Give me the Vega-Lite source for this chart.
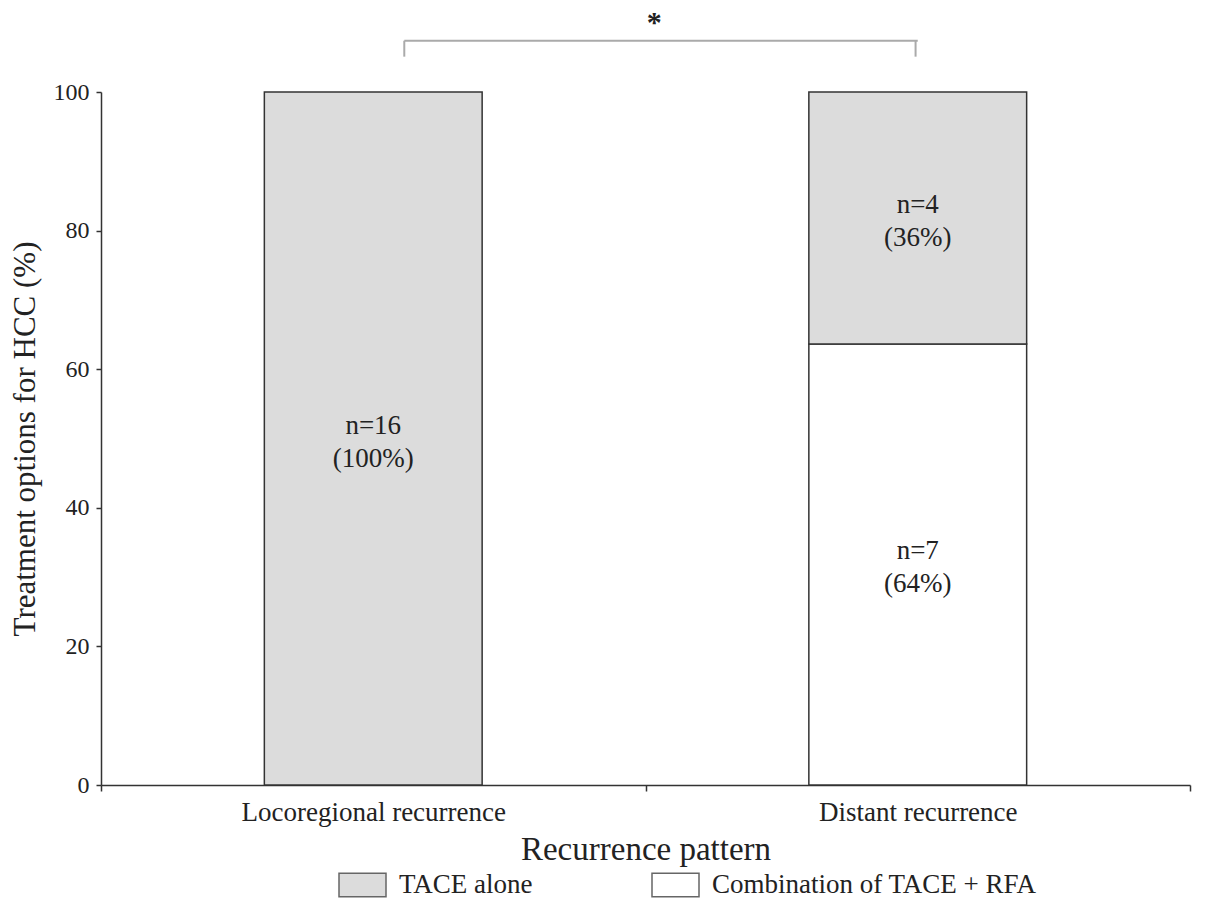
{
  "$schema": "https://vega.github.io/schema/vega-lite/v6.json",
  "autosize": {"type": "none"},
  "width": 1089,
  "height": 693,
  "padding": {"left": 101, "top": 92, "right": 15, "bottom": 122},
  "background": "white",
  "config": {
    "view": {"stroke": null},
    "font": "Liberation Serif",
    "axis": {"grid": false}
  },
  "datasets": {
    "bars": [
      {"pattern": "Locoregional recurrence", "treatment": "TACE alone", "pct": 100, "label": "n=16\n(100%)"},
      {"pattern": "Distant recurrence", "treatment": "Combination of TACE + RFA", "pct": 63.64, "label": "n=7\n(64%)"},
      {"pattern": "Distant recurrence", "treatment": "TACE alone", "pct": 36.36, "label": "n=4\n(36%)"}
    ],
    "sig": [
      {"from": "Locoregional recurrence", "to": "Distant recurrence", "mark": "*"}
    ]
  },
  "layer": [
    {
      "data": {"name": "bars"},
      "mark": {"type": "bar", "width": {"band": 0.4}, "stroke": "#333333", "strokeWidth": 1.5},
      "encoding": {
        "x": {
          "field": "pattern", "type": "nominal",
          "scale": {"domain": ["Locoregional recurrence", "Distant recurrence"], "paddingInner": 0, "paddingOuter": 0},
          "axis": {
            "title": "Recurrence pattern", "titleFontSize": 33, "titleFontWeight": "normal", "titleColor": "#222222", "titlePadding": 8,
            "labelFontSize": 27, "labelColor": "#222222", "labelAngle": 0, "labelPadding": 8, "labelLimit": 600,
            "tickBand": "extent", "tickSize": 6, "tickColor": "#333333", "tickWidth": 1.5,
            "domainColor": "#333333", "domainWidth": 1.5
          }
        },
        "y": {
          "field": "pct", "type": "quantitative", "stack": "zero",
          "scale": {"domain": [0, 100], "nice": false},
          "axis": {
            "title": "Treatment options for HCC (%)", "titleFontSize": 31, "titleFontWeight": "normal", "titleColor": "#222222", "titlePadding": 12,
            "values": [0, 20, 40, 60, 80, 100],
            "labelFontSize": 24, "labelColor": "#222222", "labelPadding": 7,
            "tickSize": 5, "tickColor": "#333333", "tickWidth": 1.5,
            "domainColor": "#333333", "domainWidth": 1.5
          }
        },
        "color": {
          "field": "treatment", "type": "nominal",
          "scale": {"domain": ["TACE alone", "Combination of TACE + RFA"], "range": ["#dcdcdc", "#ffffff"]},
          "legend": {
            "title": null, "orient": "none", "direction": "horizontal",
            "legendX": 237, "legendY": 768, "padding": 0,
            "labelFontSize": 27, "labelColor": "#222222", "labelOffset": 12, "labelLimit": 600,
            "columnPadding": 116,
            "symbolType": "M-1,-0.5H1V0.5H-1Z", "symbolSize": 2209,
            "symbolStrokeColor": "#666666", "symbolStrokeWidth": 1.5
          }
        },
        "order": {"field": "treatment", "sort": "ascending"}
      }
    },
    {
      "data": {"name": "bars"},
      "mark": {"type": "text", "fontSize": 27, "lineBreak": "\n", "lineHeight": 33, "baseline": "middle", "align": "center", "color": "#222222", "dy": -13},
      "encoding": {
        "x": {"field": "pattern", "type": "nominal"},
        "y": {"field": "pct", "type": "quantitative", "stack": "zero", "bandPosition": 0.5},
        "order": {"field": "treatment", "sort": "ascending"},
        "text": {"field": "label"}
      }
    },
    {
      "data": {"name": "sig"},
      "mark": {"type": "rule", "color": "#aaaaaa", "strokeWidth": 2},
      "encoding": {
        "x": {"field": "from", "type": "nominal", "bandPosition": 0.557},
        "x2": {"field": "to"},
        "y": {"datum": 107.4}
      }
    },
    {
      "data": {"name": "sig"},
      "mark": {"type": "rule", "color": "#aaaaaa", "strokeWidth": 2},
      "encoding": {
        "x": {"field": "from", "type": "nominal", "bandPosition": 0.557},
        "y": {"datum": 105.1},
        "y2": {"datum": 107.4}
      }
    },
    {
      "data": {"name": "sig"},
      "mark": {"type": "rule", "color": "#aaaaaa", "strokeWidth": 2},
      "encoding": {
        "x": {"field": "to", "type": "nominal", "bandPosition": 0.496},
        "y": {"datum": 105.1},
        "y2": {"datum": 107.4}
      }
    },
    {
      "data": {"name": "sig"},
      "mark": {"type": "text", "fontSize": 30, "fontWeight": "bold", "baseline": "middle", "align": "center", "color": "#222222", "dy": 5},
      "encoding": {
        "x": {"field": "to", "type": "nominal", "bandPosition": 0.016},
        "y": {"datum": 110.7},
        "text": {"field": "mark"}
      }
    }
  ]
}
